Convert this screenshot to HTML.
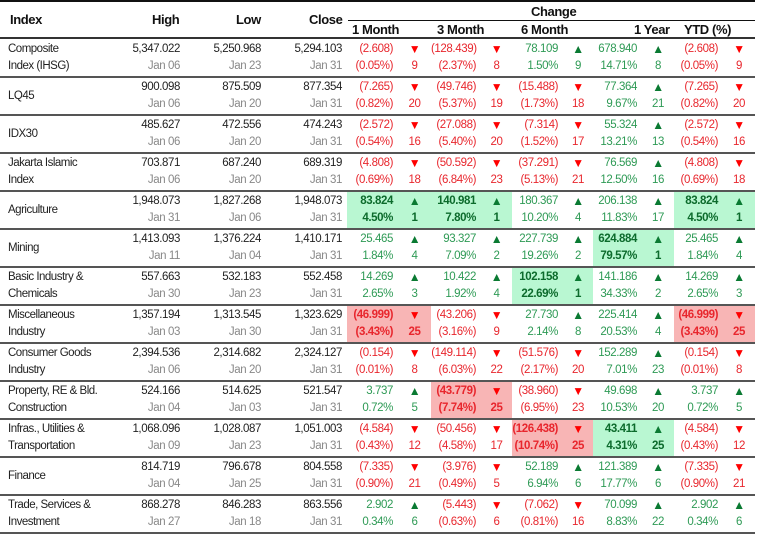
<!DOCTYPE html>
<html><head><meta charset="utf-8"><style>
body{margin:0;background:#fff;width:765px;height:533px;overflow:hidden;font-family:"Liberation Sans",sans-serif;position:relative}
.h{position:absolute;font-weight:bold;font-size:13px;letter-spacing:-0.4px;color:#111;white-space:nowrap}
table{position:absolute;left:0;top:39px;border-collapse:collapse;table-layout:fixed;width:755px;font-size:11.5px;letter-spacing:-0.4px}
tr{height:38px}
td{padding:0;height:36px;max-height:36px;border-bottom:2px solid #555;vertical-align:middle;line-height:17px;white-space:nowrap;overflow:hidden}
td.n{padding-left:8px;color:#222;font-size:11.5px;letter-spacing:-0.5px}
td.v{text-align:right;padding-right:5px;color:#222}
td.v div+div{color:#888}
td.c{text-align:right;padding-right:5px}
td.a{text-align:center}
.r{color:#e8262d}.g{color:#2e9a55}
.gh{background:#b9f7d2}.rh{background:#f8b5b5}
.gh,.rh{font-weight:bold}
.gh.g{color:#0c6b2c}
.ar{font-size:12px;display:inline-block;height:17px;line-height:17px;vertical-align:top}
.r .ar{color:#f00}.g .ar{color:#0a7a32}
</style></head><body>
<div style="position:absolute;left:0;top:0;width:755px;border-top:2px solid #111"></div>
<div class="h" style="left:10px;top:12px">Index</div>
<div class="h" style="left:152px;top:12px">High</div>
<div class="h" style="left:236px;top:12px">Low</div>
<div class="h" style="left:309px;top:12px">Close</div>
<div style="position:absolute;left:348px;top:20px;width:407px;border-top:1px solid #111"></div>
<div class="h" style="left:527px;top:4px;background:#fff;padding:0 4px">Change</div>
<div class="h" style="left:352px;top:22px">1 Month</div>
<div class="h" style="left:437px;top:22px">3 Month</div>
<div class="h" style="left:521px;top:22px">6 Month</div>
<div class="h" style="left:634px;top:22px">1 Year</div>
<div class="h" style="left:684px;top:22px">YTD (%)</div>
<div style="position:absolute;left:0;top:37px;width:755px;border-top:2px solid #333"></div>
<table>
<colgroup><col style="width:100px"><col style="width:85px"><col style="width:81px"><col style="width:81px"><col style="width:51px"><col style="width:33px"><col style="width:50px"><col style="width:31px"><col style="width:51px"><col style="width:30px"><col style="width:49px"><col style="width:32px"><col style="width:49px"><col style="width:32px"></colgroup>
<tr><td class="n">Composite<br>Index (IHSG)</td><td class="v"><div>5,347.022</div><div>Jan 06</div></td><td class="v"><div>5,250.968</div><div>Jan 23</div></td><td class="v"><div>5,294.103</div><div>Jan 31</div></td>
<td class="c r">(2.608)<br>(0.05%)</td><td class="a r"><span class="ar">▼</span><br>9</td><td class="c r">(128.439)<br>(2.37%)</td><td class="a r"><span class="ar">▼</span><br>8</td><td class="c g">78.109<br>1.50%</td><td class="a g"><span class="ar">▲</span><br>9</td><td class="c g">678.940<br>14.71%</td><td class="a g"><span class="ar">▲</span><br>8</td><td class="c r">(2.608)<br>(0.05%)</td><td class="a r"><span class="ar">▼</span><br>9</td></tr>
<tr><td class="n">LQ45</td><td class="v"><div>900.098</div><div>Jan 06</div></td><td class="v"><div>875.509</div><div>Jan 20</div></td><td class="v"><div>877.354</div><div>Jan 31</div></td>
<td class="c r">(7.265)<br>(0.82%)</td><td class="a r"><span class="ar">▼</span><br>20</td><td class="c r">(49.746)<br>(5.37%)</td><td class="a r"><span class="ar">▼</span><br>19</td><td class="c r">(15.488)<br>(1.73%)</td><td class="a r"><span class="ar">▼</span><br>18</td><td class="c g">77.364<br>9.67%</td><td class="a g"><span class="ar">▲</span><br>21</td><td class="c r">(7.265)<br>(0.82%)</td><td class="a r"><span class="ar">▼</span><br>20</td></tr>
<tr><td class="n">IDX30</td><td class="v"><div>485.627</div><div>Jan 06</div></td><td class="v"><div>472.556</div><div>Jan 20</div></td><td class="v"><div>474.243</div><div>Jan 31</div></td>
<td class="c r">(2.572)<br>(0.54%)</td><td class="a r"><span class="ar">▼</span><br>16</td><td class="c r">(27.088)<br>(5.40%)</td><td class="a r"><span class="ar">▼</span><br>20</td><td class="c r">(7.314)<br>(1.52%)</td><td class="a r"><span class="ar">▼</span><br>17</td><td class="c g">55.324<br>13.21%</td><td class="a g"><span class="ar">▲</span><br>13</td><td class="c r">(2.572)<br>(0.54%)</td><td class="a r"><span class="ar">▼</span><br>16</td></tr>
<tr><td class="n">Jakarta Islamic<br>Index</td><td class="v"><div>703.871</div><div>Jan 06</div></td><td class="v"><div>687.240</div><div>Jan 20</div></td><td class="v"><div>689.319</div><div>Jan 31</div></td>
<td class="c r">(4.808)<br>(0.69%)</td><td class="a r"><span class="ar">▼</span><br>18</td><td class="c r">(50.592)<br>(6.84%)</td><td class="a r"><span class="ar">▼</span><br>23</td><td class="c r">(37.291)<br>(5.13%)</td><td class="a r"><span class="ar">▼</span><br>21</td><td class="c g">76.569<br>12.50%</td><td class="a g"><span class="ar">▲</span><br>16</td><td class="c r">(4.808)<br>(0.69%)</td><td class="a r"><span class="ar">▼</span><br>18</td></tr>
<tr><td class="n">Agriculture</td><td class="v"><div>1,948.073</div><div>Jan 31</div></td><td class="v"><div>1,827.268</div><div>Jan 06</div></td><td class="v"><div>1,948.073</div><div>Jan 31</div></td>
<td class="c g gh">83.824<br>4.50%</td><td class="a g gh"><span class="ar">▲</span><br>1</td><td class="c g gh">140.981<br>7.80%</td><td class="a g gh"><span class="ar">▲</span><br>1</td><td class="c g">180.367<br>10.20%</td><td class="a g"><span class="ar">▲</span><br>4</td><td class="c g">206.138<br>11.83%</td><td class="a g"><span class="ar">▲</span><br>17</td><td class="c g gh">83.824<br>4.50%</td><td class="a g gh"><span class="ar">▲</span><br>1</td></tr>
<tr><td class="n">Mining</td><td class="v"><div>1,413.093</div><div>Jan 11</div></td><td class="v"><div>1,376.224</div><div>Jan 04</div></td><td class="v"><div>1,410.171</div><div>Jan 31</div></td>
<td class="c g">25.465<br>1.84%</td><td class="a g"><span class="ar">▲</span><br>4</td><td class="c g">93.327<br>7.09%</td><td class="a g"><span class="ar">▲</span><br>2</td><td class="c g">227.739<br>19.26%</td><td class="a g"><span class="ar">▲</span><br>2</td><td class="c g gh">624.884<br>79.57%</td><td class="a g gh"><span class="ar">▲</span><br>1</td><td class="c g">25.465<br>1.84%</td><td class="a g"><span class="ar">▲</span><br>4</td></tr>
<tr><td class="n">Basic Industry &amp;<br>Chemicals</td><td class="v"><div>557.663</div><div>Jan 30</div></td><td class="v"><div>532.183</div><div>Jan 23</div></td><td class="v"><div>552.458</div><div>Jan 31</div></td>
<td class="c g">14.269<br>2.65%</td><td class="a g"><span class="ar">▲</span><br>3</td><td class="c g">10.422<br>1.92%</td><td class="a g"><span class="ar">▲</span><br>4</td><td class="c g gh">102.158<br>22.69%</td><td class="a g gh"><span class="ar">▲</span><br>1</td><td class="c g">141.186<br>34.33%</td><td class="a g"><span class="ar">▲</span><br>2</td><td class="c g">14.269<br>2.65%</td><td class="a g"><span class="ar">▲</span><br>3</td></tr>
<tr><td class="n">Miscellaneous<br>Industry</td><td class="v"><div>1,357.194</div><div>Jan 03</div></td><td class="v"><div>1,313.545</div><div>Jan 30</div></td><td class="v"><div>1,323.629</div><div>Jan 31</div></td>
<td class="c r rh">(46.999)<br>(3.43%)</td><td class="a r rh"><span class="ar">▼</span><br>25</td><td class="c r">(43.206)<br>(3.16%)</td><td class="a r"><span class="ar">▼</span><br>9</td><td class="c g">27.730<br>2.14%</td><td class="a g"><span class="ar">▲</span><br>8</td><td class="c g">225.414<br>20.53%</td><td class="a g"><span class="ar">▲</span><br>4</td><td class="c r rh">(46.999)<br>(3.43%)</td><td class="a r rh"><span class="ar">▼</span><br>25</td></tr>
<tr><td class="n">Consumer Goods<br>Industry</td><td class="v"><div>2,394.536</div><div>Jan 06</div></td><td class="v"><div>2,314.682</div><div>Jan 20</div></td><td class="v"><div>2,324.127</div><div>Jan 31</div></td>
<td class="c r">(0.154)<br>(0.01%)</td><td class="a r"><span class="ar">▼</span><br>8</td><td class="c r">(149.114)<br>(6.03%)</td><td class="a r"><span class="ar">▼</span><br>22</td><td class="c r">(51.576)<br>(2.17%)</td><td class="a r"><span class="ar">▼</span><br>20</td><td class="c g">152.289<br>7.01%</td><td class="a g"><span class="ar">▲</span><br>23</td><td class="c r">(0.154)<br>(0.01%)</td><td class="a r"><span class="ar">▼</span><br>8</td></tr>
<tr><td class="n">Property, RE &amp; Bld.<br>Construction</td><td class="v"><div>524.166</div><div>Jan 04</div></td><td class="v"><div>514.625</div><div>Jan 03</div></td><td class="v"><div>521.547</div><div>Jan 31</div></td>
<td class="c g">3.737<br>0.72%</td><td class="a g"><span class="ar">▲</span><br>5</td><td class="c r rh">(43.779)<br>(7.74%)</td><td class="a r rh"><span class="ar">▼</span><br>25</td><td class="c r">(38.960)<br>(6.95%)</td><td class="a r"><span class="ar">▼</span><br>23</td><td class="c g">49.698<br>10.53%</td><td class="a g"><span class="ar">▲</span><br>20</td><td class="c g">3.737<br>0.72%</td><td class="a g"><span class="ar">▲</span><br>5</td></tr>
<tr><td class="n">Infras., Utilities &amp;<br>Transportation</td><td class="v"><div>1,068.096</div><div>Jan 09</div></td><td class="v"><div>1,028.087</div><div>Jan 23</div></td><td class="v"><div>1,051.003</div><div>Jan 31</div></td>
<td class="c r">(4.584)<br>(0.43%)</td><td class="a r"><span class="ar">▼</span><br>12</td><td class="c r">(50.456)<br>(4.58%)</td><td class="a r"><span class="ar">▼</span><br>17</td><td class="c r rh">(126.438)<br>(10.74%)</td><td class="a r rh"><span class="ar">▼</span><br>25</td><td class="c g gh">43.411<br>4.31%</td><td class="a g gh"><span class="ar">▲</span><br>25</td><td class="c r">(4.584)<br>(0.43%)</td><td class="a r"><span class="ar">▼</span><br>12</td></tr>
<tr><td class="n">Finance</td><td class="v"><div>814.719</div><div>Jan 04</div></td><td class="v"><div>796.678</div><div>Jan 25</div></td><td class="v"><div>804.558</div><div>Jan 31</div></td>
<td class="c r">(7.335)<br>(0.90%)</td><td class="a r"><span class="ar">▼</span><br>21</td><td class="c r">(3.976)<br>(0.49%)</td><td class="a r"><span class="ar">▼</span><br>5</td><td class="c g">52.189<br>6.94%</td><td class="a g"><span class="ar">▲</span><br>6</td><td class="c g">121.389<br>17.77%</td><td class="a g"><span class="ar">▲</span><br>6</td><td class="c r">(7.335)<br>(0.90%)</td><td class="a r"><span class="ar">▼</span><br>21</td></tr>
<tr><td class="n">Trade, Services &amp;<br>Investment</td><td class="v"><div>868.278</div><div>Jan 27</div></td><td class="v"><div>846.283</div><div>Jan 18</div></td><td class="v"><div>863.556</div><div>Jan 31</div></td>
<td class="c g">2.902<br>0.34%</td><td class="a g"><span class="ar">▲</span><br>6</td><td class="c r">(5.443)<br>(0.63%)</td><td class="a r"><span class="ar">▼</span><br>6</td><td class="c r">(7.062)<br>(0.81%)</td><td class="a r"><span class="ar">▼</span><br>16</td><td class="c g">70.099<br>8.83%</td><td class="a g"><span class="ar">▲</span><br>22</td><td class="c g">2.902<br>0.34%</td><td class="a g"><span class="ar">▲</span><br>6</td></tr>
</table>
</body></html>
